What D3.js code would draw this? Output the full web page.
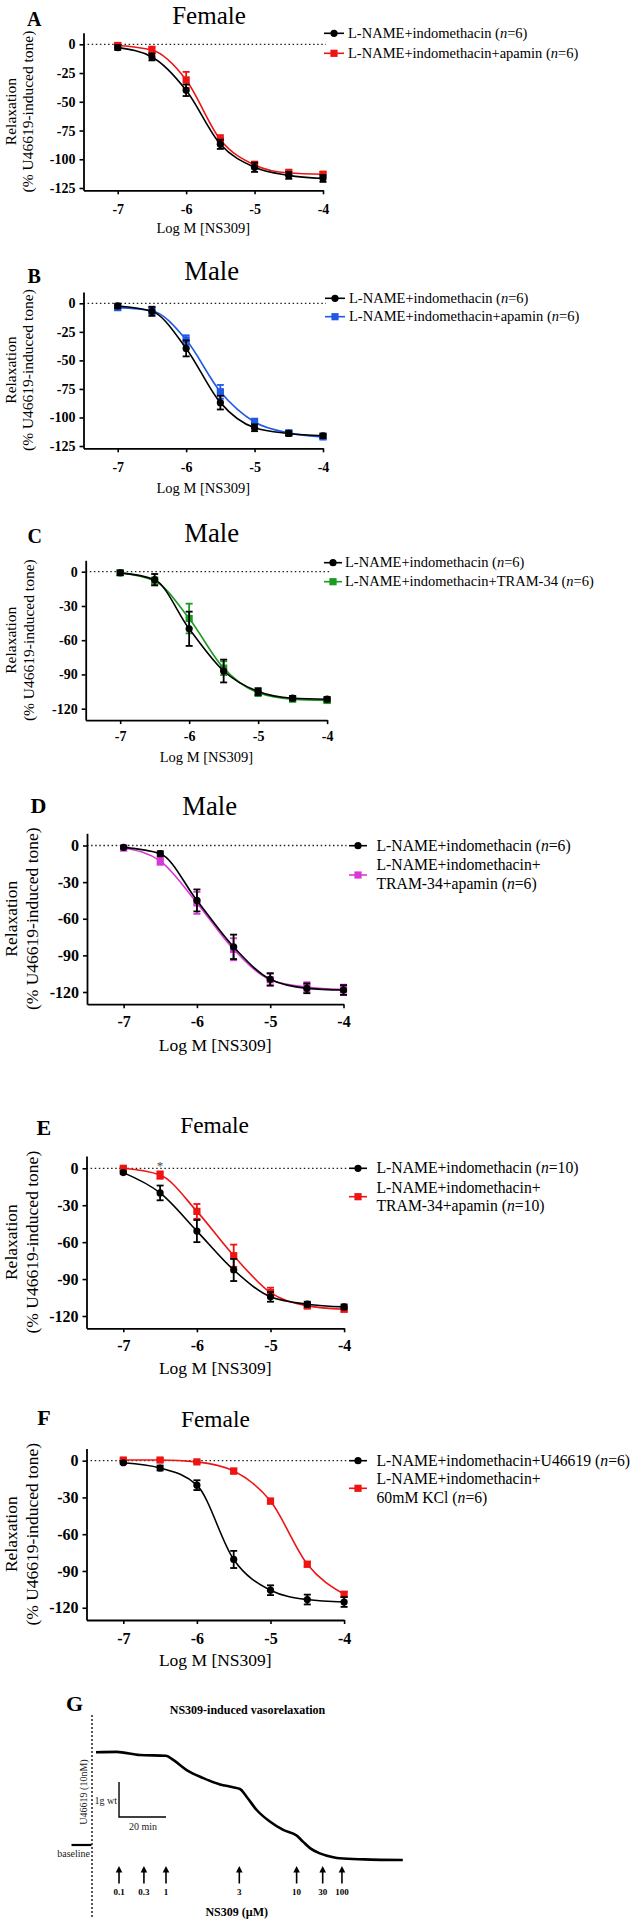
<!DOCTYPE html>
<meta charset="utf-8">
<html>
<head>
<script src="https://d3js.org/d3.v7.min.js"></script>
<style>
 body { margin: 0; background: #fff; }
 svg { font-family: "Liberation Serif", "Times New Roman", serif; }
</style>
</head>
<body>
<svg width="633" height="1923"></svg>
<script>

// NS309 doses (log M) and axis ticks
var doses = [-7, -6.5, -6, -5.5, -5, -4.5, -4];
var xTicks = [-7, -6, -5, -4];
var yTicks25 = [0, -25, -50, -75, -100, -125];
var yTicks30 = [0, -30, -60, -90, -120];

// A - female, apamin
var aCtrl    = [-2.9, -11, -40, -87, -107, -114, -116.7];
var aCtrlSem = [2, 3, 5, 4, 4, 3, 3];
var aApa     = [-1, -5, -31, -83, -105, -112, -113];
var aApaSem  = [2, 3, 7, 4, 3, 3, 2];
// B - male, apamin
var bCtrl    = [-2.3, -7, -39.5, -87, -109, -114, -116];
var bCtrlSem = [2, 4, 7, 6, 3, 2, 2];
var bApa     = [-3.8, -6.5, -32, -77.5, -104, -113.5, -117];
var bApaSem  = [2, 3, 4, 6, 3, 2, 2];
// C - male, TRAM-34
var cCtrl    = [-1, -7, -50, -87, -105, -110.8, -111.7];
var cCtrlSem = [2, 5, 15, 10, 3, 2, 2];
var cTram    = [-1, -8, -41, -84.5, -106, -111.6, -112.8];
var cTramSem = [2, 3, 13, 6, 3, 2, 2];
// D - male, TRAM-34 + apamin
var dCtrl    = [-1.5, -6.7, -45, -83, -109.6, -117, -118.4];
var dCtrlSem = [1, 2, 9, 10, 5, 4, 4];
var dBoth    = [-2, -12.8, -47, -85, -110, -116, -118];
var dBothSem = [2, 3, 9, 9, 5, 4, 4];
// E - female, TRAM-34 + apamin
var eCtrl    = [-3.5, -20, -51, -82.6, -104.4, -110.4, -112.6];
var eCtrlSem = [1, 6, 9, 9, 4, 2, 2];
var eBoth    = [0, -5.5, -35, -71, -101, -111.8, -114.5];
var eBothSem = [1, 3, 6, 9, 4, 2, 2];
// F - female, U46619 vs 60mM KCl
var fU466    = [-1.7, -6, -20, -80.6, -105.7, -113.3, -115.3];
var fU466Sem = [1, 2, 4, 7, 4, 4, 4];
var fKcl     = [0.5, 0.5, -1, -8.5, -33, -84.5, -109];
var fKclSem  = [1, 1, 1, 2, 2, 2, 2];

// G - isometric tension trace (minutes, g above baseline)
var traceMin = [0, 8.8, 18.7, 29.8, 32.9, 38.6, 45.7, 52.8, 58.4, 61.3, 64.1, 68.4, 74.0, 79.7, 85.4, 88.2, 91.1, 95.3, 101.0, 103.8, 114.2, 130.6];
var traceG   = [2.65, 2.66, 2.57, 2.55, 2.43, 2.14, 1.91, 1.73, 1.65, 1.60, 1.38, 1.00, 0.67, 0.43, 0.27, 0.09, -0.09, -0.24, -0.35, -0.38, -0.41, -0.43];
var doseTimes  = [9.8, 20.4, 29.8, 61, 85.4, 96.5, 104.7];
var doseLabels = ["0.1", "0.3", "1", "3", "10", "30", "100"];

var BLACK = "#000", RED = "#ee1414", BLUE = "#2058e8", GREEN = "#1c9a22", MAGENTA = "#d838d8";

var panels = [
  {letter: "A", lx: 27, ly: 26, lsize: 20, title: "Female", tx: 209, ty: 24, tsize: 25,
   xr: [83.5, 323], yr: [190.3, 32.8], ydom: [-127, 10], yticks: yTicks25, tick: 14, xpad: 9.4,
   xty: 233, xts: 14.5, ylab: [11, 28], yls: 15.5, legX: 334, legHalf: 10, legTx: 348, legFont: 14.5,
   series: [
     {v: aCtrl, e: aCtrlSem, c: BLACK, s: "circle", leg: ["L-NAME+indomethacin (n=6)"], ly: [33.3]},
     {v: aApa, e: aApaSem, c: RED, s: "square", leg: ["L-NAME+indomethacin+apamin (n=6)"], ly: [53.3]}]},
  {letter: "B", lx: 27.5, ly: 283, lsize: 20, title: "Male", tx: 211.7, ty: 280, tsize: 26.7,
   xr: [83.5, 323], yr: [448.3, 291.9], ydom: [-127, 10], yticks: yTicks25, tick: 14, xpad: 9.4,
   xty: 493, xts: 14.5, ylab: [11, 28], yls: 15.5, legX: 335, legHalf: 10, legTx: 349, legFont: 14.5,
   series: [
     {v: bCtrl, e: bCtrlSem, c: BLACK, s: "circle", leg: ["L-NAME+indomethacin (n=6)"], ly: [298.3]},
     {v: bApa, e: bApaSem, c: BLUE, s: "square", leg: ["L-NAME+indomethacin+apamin (n=6)"], ly: [316.7]}]},
  {letter: "C", lx: 27.5, ly: 543, lsize: 20, title: "Male", tx: 211.7, ty: 541.7, tsize: 26.7,
   xr: [85.7, 327.1], yr: [720.1, 560.3], ydom: [-130, 10], yticks: yTicks30, tick: 14, xpad: 7.4,
   xty: 761.7, xts: 14.5, ylab: [11, 29], yls: 15.5, legX: 333, legHalf: 9, legTx: 345, legFont: 14.5,
   series: [
     {v: cCtrl, e: cCtrlSem, c: BLACK, s: "circle", leg: ["L-NAME+indomethacin (n=6)"], ly: [562.7]},
     {v: cTram, e: cTramSem, c: GREEN, s: "square", leg: ["L-NAME+indomethacin+TRAM-34 (n=6)"], ly: [581.7]}]},
  {letter: "D", lx: 30.4, ly: 813, lsize: 22, title: "Male", tx: 209.7, ty: 815, tsize: 26.7,
   xr: [87, 343.5], yr: [1004.2, 833.3], ydom: [-130, 10], yticks: yTicks30, tick: 16, xpad: 7.4,
   xty: 1050.5, xts: 17.5, ylab: [11, 32], yls: 17.5, legX: 358, legHalf: 9, legTx: 376.5, legFont: 15.7,
   series: [
     {v: dCtrl, e: dCtrlSem, c: BLACK, s: "circle", leg: ["L-NAME+indomethacin (n=6)"], ly: [845.7], sy: 845.7},
     {v: dBoth, e: dBothSem, c: MAGENTA, s: "square", leg: ["L-NAME+indomethacin+", "TRAM-34+apamin (n=6)"], ly: [865, 884], sy: 875}]},
  {letter: "E", lx: 36.4, ly: 1135, lsize: 22, title: "Female", tx: 214.6, ty: 1133, tsize: 23.4,
   xr: [86.5, 344.1], yr: [1328.3, 1156], ydom: [-130, 10], yticks: yTicks30, tick: 16, xpad: 7.6,
   xty: 1373.5, xts: 17.5, ylab: [11, 32], yls: 17.5, legX: 358, legHalf: 9, legTx: 376.5, legFont: 15.7,
   star: -6.5,
   series: [
     {v: eCtrl, e: eCtrlSem, c: BLACK, s: "circle", leg: ["L-NAME+indomethacin (n=10)"], ly: [1168.3]},
     {v: eBoth, e: eBothSem, c: RED, s: "square", leg: ["L-NAME+indomethacin+", "TRAM-34+apamin (n=10)"], ly: [1188.3, 1206], sy: 1196.7}]},
  {letter: "F", lx: 37.2, ly: 1425, lsize: 22, title: "Female", tx: 215.4, ty: 1426.7, tsize: 23.4,
   xr: [86.5, 344.1], yr: [1620, 1448.4], ydom: [-130, 10], yticks: yTicks30, tick: 16, xpad: 8.2,
   xty: 1665.5, xts: 17.5, ylab: [11, 32], yls: 17.5, legX: 358, legHalf: 9, legTx: 376.5, legFont: 15.7,
   series: [
     {v: fU466, e: fU466Sem, c: BLACK, s: "circle", leg: ["L-NAME+indomethacin+U46619 (n=6)"], ly: [1460.7]},
     {v: fKcl, e: fKclSem, c: RED, s: "square", leg: ["L-NAME+indomethacin+", "60mM KCl (n=6)"], ly: [1479.3, 1498.3], sy: 1488.3}]}
];

var svg = d3.select("svg");

// writes a legend line, with the n in italics
function legendText(sel, str) {
  var m = str.match(/^(.*\()n(=.*)$/);
  if (!m) { sel.text(str); return; }
  sel.append("tspan").text(m[1]);
  sel.append("tspan").attr("font-style", "italic").text("n");
  sel.append("tspan").text(m[2]);
}

function marker(g, shape, cx, cy, color) {
  if (shape == "circle")
    g.append("circle").attr("cx", cx).attr("cy", cy).attr("r", 3.6).attr("fill", color);
  else
    g.append("rect").attr("x", cx - 3.6).attr("y", cy - 3.6).attr("width", 7.2).attr("height", 7.2).attr("fill", color);
}

panels.forEach(function(p) {
  var g = svg.append("g");
  var x = d3.scaleLinear().domain([-7.5, -4]).range(p.xr);
  var y = d3.scaleLinear().domain(p.ydom).range(p.yr);

  g.append("text").attr("x", p.lx).attr("y", p.ly)
    .attr("font-size", p.lsize).attr("font-weight", "bold").text(p.letter);
  g.append("text").attr("x", p.tx).attr("y", p.ty).attr("text-anchor", "middle")
    .attr("font-size", p.tsize).text(p.title);

  // dotted zero line
  g.append("line")
    .attr("x1", p.xr[0]).attr("x2", x(-4) + 3)
    .attr("y1", y(0)).attr("y2", y(0))
    .attr("stroke", "#222").attr("stroke-width", 1.3).attr("stroke-dasharray", "1.5,2.6");

  var ax = g.append("g")
      .attr("transform", "translate(0," + p.yr[0] + ")")
      .call(d3.axisBottom(x).tickValues(xTicks).tickSize(4).tickSizeOuter(0).tickPadding(p.xpad).tickFormat(d3.format("d")));
  var ay = g.append("g")
      .attr("transform", "translate(" + p.xr[0] + ",0)")
      .call(d3.axisLeft(y).tickValues(p.yticks).tickSize(4).tickSizeOuter(0).tickPadding(4).tickFormat(d3.format("d")));
  [ax, ay].forEach(function(a) {
    a.select(".domain").attr("stroke", "#000").attr("stroke-width", 1.8);
    a.selectAll(".tick line").attr("stroke", "#000").attr("stroke-width", 1.6);
    a.selectAll(".tick text").attr("fill", "#000")
      .attr("font-family", "'Liberation Serif', 'Times New Roman', serif")
      .attr("font-size", p.tick).attr("font-weight", "bold")
      .text(function(d) { return d == 0 ? "0" : "-" + Math.abs(d); });
  });

  g.append("text").attr("x", (p.xr[0] + p.xr[1]) / 2).attr("y", p.xty)
    .attr("text-anchor", "middle").attr("font-size", p.xts).text("Log M [NS309]");

  var cy = (p.yr[0] + p.yr[1]) / 2;
  ["Relaxation", "(% U46619-induced tone)"].forEach(function(t, i) {
    g.append("text")
      .attr("transform", "translate(" + p.ylab[i] + "," + cy + ") rotate(-90)")
      .attr("text-anchor", "middle").attr("dy", "0.35em")
      .attr("font-size", p.yls).text(t);
  });

  var line = d3.line()
      .x(function(d, i) { return x(doses[i]); })
      .y(function(d) { return y(d); })
      .curve(d3.curveMonotoneX);

  p.series.slice().reverse().forEach(function(s) {
    var sg = g.append("g");
    sg.append("path").attr("d", line(s.v)).attr("fill", "none")
      .attr("stroke", s.c).attr("stroke-width", 1.6);
    s.v.forEach(function(v, i) {
      var px = x(doses[i]), e = s.e[i];
      sg.append("line").attr("x1", px).attr("x2", px).attr("y1", y(v - e)).attr("y2", y(v + e))
        .attr("stroke", s.c).attr("stroke-width", 1.8);
      [v - e, v + e].forEach(function(b) {
        sg.append("line").attr("x1", px - 3.5).attr("x2", px + 3.5).attr("y1", y(b)).attr("y2", y(b))
          .attr("stroke", s.c).attr("stroke-width", 1.8);
      });
      marker(sg, s.s, px, y(v), s.c);
    });
  });

  // legend
  p.series.forEach(function(s) {
    var sy = s.sy || s.ly[0];
    g.append("line").attr("x1", p.legX - p.legHalf).attr("x2", p.legX + p.legHalf)
      .attr("y1", sy).attr("y2", sy).attr("stroke", s.c).attr("stroke-width", 1.6);
    marker(g, s.s, p.legX, sy, s.c);
    s.leg.forEach(function(t, i) {
      var tx = g.append("text").attr("x", p.legTx).attr("y", s.ly[i]).attr("dy", "0.33em")
        .attr("font-size", p.legFont);
      legendText(tx, t);
    });
  });

  if (p.star !== undefined) {
    g.append("text").attr("x", x(p.star)).attr("y", y(0) + 2).attr("text-anchor", "middle")
      .attr("font-size", 13).attr("fill", "#444").text("*");
  }
});

// ---- panel G: tension trace ----
var G = svg.append("g");
var xT = d3.scaleLinear().domain([0, 130.6]).range([96, 402.8]);
var yT = d3.scaleLinear().domain([0, 2.65]).range([1845, 1752.25]);

G.append("text").attr("x", 66).attr("y", 1711).attr("font-size", 22).attr("font-weight", "bold").text("G");
G.append("text").attr("x", 247.5).attr("y", 1714).attr("text-anchor", "middle")
  .attr("font-size", 12).attr("font-weight", "bold").text("NS309-induced vasorelaxation");

G.append("line").attr("x1", 92).attr("x2", 92).attr("y1", 1715).attr("y2", 1917)
  .attr("stroke", "#111").attr("stroke-width", 1.4).attr("stroke-dasharray", "2,2");

G.append("path")
  .attr("d", d3.line().x(function(d, i) { return xT(traceMin[i]); }).y(function(d) { return yT(d); })
    .curve(d3.curveMonotoneX)(traceG))
  .attr("fill", "none").attr("stroke", "#000").attr("stroke-width", 2.6);

// baseline marker
G.append("line").attr("x1", 71.5).attr("x2", 91.5).attr("y1", yT(0)).attr("y2", yT(0))
  .attr("stroke", "#000").attr("stroke-width", 2.2);
G.append("text").attr("x", 90).attr("y", yT(0) + 12).attr("text-anchor", "end")
  .attr("font-size", 10).attr("fill", "#222").text("baseline");
G.append("text").attr("transform", "translate(83.5,1792) rotate(-90)").attr("text-anchor", "middle")
  .attr("dy", "0.35em").attr("font-size", 10).attr("fill", "#222").text("U46619 (10nM)");

// scale bar: 1 g and 20 min
var sbX = xT(doseTimes[0]), sbY = yT(0.8);
G.append("path")
  .attr("d", "M" + sbX + "," + (sbY - (yT(0) - yT(1))) + "V" + sbY + "H" + (sbX + xT(20) - xT(0)))
  .attr("fill", "none").attr("stroke", "#000").attr("stroke-width", 1.4);
G.append("text").attr("x", sbX - 2).attr("y", sbY - 13).attr("text-anchor", "end")
  .attr("font-size", 10).attr("fill", "#222").text("1g wt");
G.append("text").attr("x", sbX + (xT(20) - xT(0)) / 2 + 0.5).attr("y", sbY + 13).attr("text-anchor", "middle")
  .attr("font-size", 10).attr("fill", "#222").text("20 min");

// dose arrows
doseTimes.forEach(function(t, i) {
  var ax = xT(t);
  G.append("line").attr("x1", ax).attr("x2", ax).attr("y1", 1883.5).attr("y2", 1871)
    .attr("stroke", "#000").attr("stroke-width", 1.6);
  G.append("path").attr("d", "M" + (ax - 3.3) + ",1872.5L" + ax + ",1866L" + (ax + 3.3) + ",1872.5Z")
    .attr("fill", "#000");
  G.append("text").attr("x", ax).attr("y", 1895).attr("text-anchor", "middle")
    .attr("font-size", 9).attr("font-weight", "bold").text(doseLabels[i]);
});
G.append("text").attr("x", 236.7).attr("y", 1916).attr("text-anchor", "middle")
  .attr("font-size", 12).attr("font-weight", "bold").text("NS309 (\u00b5M)");

</script>
</body>
</html>
